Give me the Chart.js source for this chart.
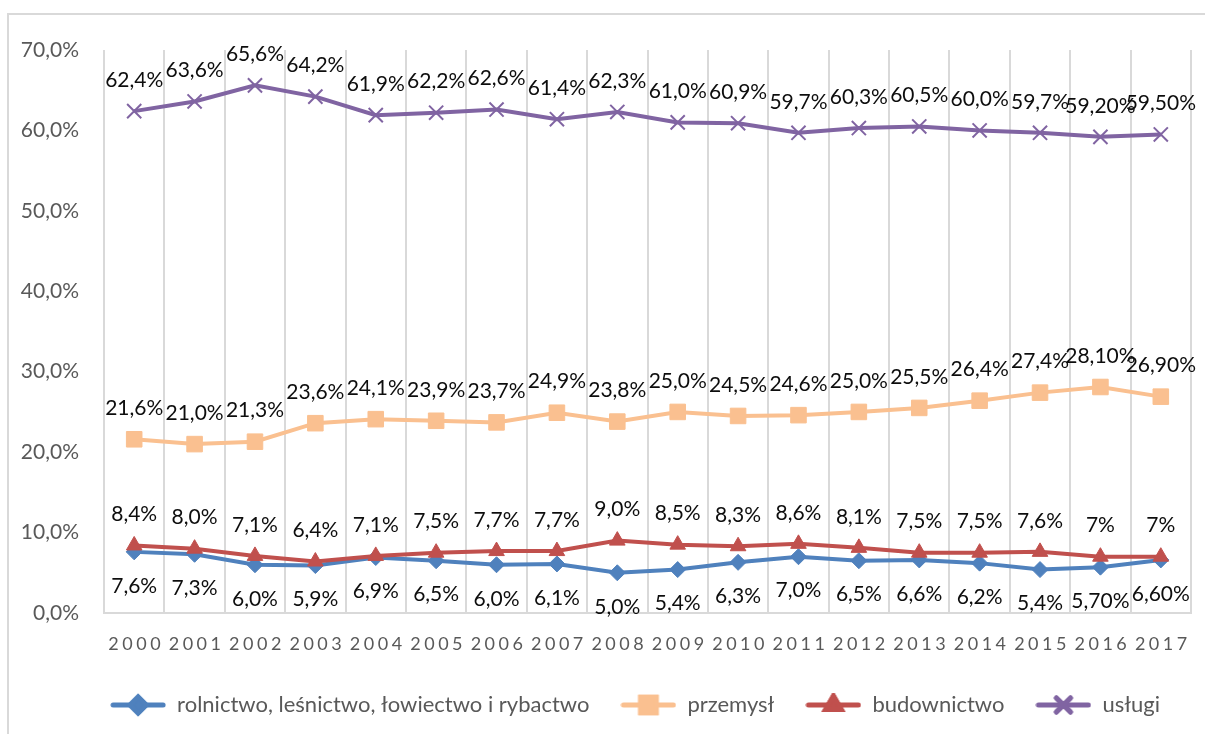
<!DOCTYPE html>
<html>
<head>
<meta charset="utf-8">
<script src="https://cdn.jsdelivr.net/npm/chart.js@4.4.7/dist/chart.umd.min.js"></script>
<style>
  html, body { margin: 0; padding: 0; background: #fff; overflow: hidden; }
  #wrap { position: relative; width: 1205px; height: 734px; }
  #frame { position: absolute; left: 7px; top: 13px; width: 1300px; height: 800px; border: 2px solid #d9d9d9; }
  #chart { position: absolute; left: 0; top: 0; }
</style>
</head>
<body>
<div id="wrap">
  <div id="frame"></div>
  <canvas id="chart" width="1205" height="734"></canvas>
</div>
<script>
const years = ["2000", "2001", "2002", "2003", "2004", "2005", "2006", "2007", "2008",
  "2009", "2010", "2011", "2012", "2013", "2014", "2015", "2016", "2017"];

const rolnictwo = [7.6, 7.3, 6.0, 5.9, 6.9, 6.5, 6.0, 6.1, 5.0, 5.4, 6.3, 7.0, 6.5, 6.6, 6.2, 5.4, 5.7, 6.6];
const przemysl = [21.6, 21.0, 21.3, 23.6, 24.1, 23.9, 23.7, 24.9, 23.8, 25.0, 24.5, 24.6, 25.0, 25.5, 26.4, 27.4, 28.1, 26.9];
const budownictwo = [8.4, 8.0, 7.1, 6.4, 7.1, 7.5, 7.7, 7.7, 9.0, 8.5, 8.3, 8.6, 8.1, 7.5, 7.5, 7.6, 7, 7];
const uslugi = [62.4, 63.6, 65.6, 64.2, 61.9, 62.2, 62.6, 61.4, 62.3, 61.0, 60.9, 59.7, 60.3, 60.5, 60.0, 59.7, 59.2, 59.5];

// labels as printed on the chart
const rolnictwoText = ["7,6%", "7,3%", "6,0%", "5,9%", "6,9%", "6,5%", "6,0%", "6,1%", "5,0%", "5,4%", "6,3%", "7,0%", "6,5%", "6,6%", "6,2%", "5,4%", "5,70%", "6,60%"];
const przemyslText = ["21,6%", "21,0%", "21,3%", "23,6%", "24,1%", "23,9%", "23,7%", "24,9%", "23,8%", "25,0%", "24,5%", "24,6%", "25,0%", "25,5%", "26,4%", "27,4%", "28,10%", "26,90%"];
const budownictwoText = ["8,4%", "8,0%", "7,1%", "6,4%", "7,1%", "7,5%", "7,7%", "7,7%", "9,0%", "8,5%", "8,3%", "8,6%", "8,1%", "7,5%", "7,5%", "7,6%", "7%", "7%"];
const uslugiText = ["62,4%", "63,6%", "65,6%", "64,2%", "61,9%", "62,2%", "62,6%", "61,4%", "62,3%", "61,0%", "60,9%", "59,7%", "60,3%", "60,5%", "60,0%", "59,7%", "59,20%", "59,50%"];

const yTicks = [0, 10, 20, 30, 40, 50, 60, 70];

const FONT = "Lato, 'Open Sans', sans-serif";
const BLUE = "#4F81BD";
const ORANGE = "#FAC090";
const RED = "#C0504D";
const PURPLE = "#8064A2";

function legendIcon(color, style, radius, borderWidth) {
  const c = document.createElement("canvas");
  c.width = 56;
  c.height = 24;
  const ctx = c.getContext("2d");
  ctx.strokeStyle = color;
  ctx.lineWidth = 5;
  ctx.lineCap = "round";
  ctx.beginPath();
  ctx.moveTo(3, 12);
  ctx.lineTo(53, 12);
  ctx.stroke();
  ctx.fillStyle = color;
  ctx.strokeStyle = color;
  Chart.helpers.drawPoint(ctx, { pointStyle: style, radius: radius, borderWidth: borderWidth }, 28, 12);
  ctx.fill();
  ctx.stroke();
  return c;
}

const dataLabelPlugin = {
  id: "dataLabels",
  afterDatasetsDraw(chart) {
    const ctx = chart.ctx;
    ctx.save();
    ctx.font = "21px " + FONT;
    ctx.fillStyle = "#0d0d0d";
    ctx.textAlign = "center";
    ctx.textBaseline = "middle";
    chart.data.datasets.forEach((ds, di) => {
      const meta = chart.getDatasetMeta(di);
      meta.data.forEach((pt, i) => {
        const dy = ds.labelBelow ? 34 : -31;
        ctx.fillText(ds.labelTexts[i], pt.x, pt.y + dy);
      });
    });
    ctx.restore();
  },
  afterDraw(chart) {
    // year labels with wide letter spacing
    const ctx = chart.ctx;
    const xScale = chart.scales.x;
    ctx.save();
    ctx.font = "18px " + FONT;
    ctx.fillStyle = "#595959";
    ctx.letterSpacing = "3.5px";
    ctx.textAlign = "center";
    ctx.textBaseline = "middle";
    years.forEach((y, i) => {
      ctx.fillText(y, xScale.getPixelForValue(i) + 2, chart.chartArea.bottom + 31);
    });
    ctx.restore();
  }
};

new Chart(document.getElementById("chart"), {
  type: "line",
  data: {
    labels: years,
    datasets: [
      {
        label: "rolnictwo, leśnictwo, łowiectwo i rybactwo",
        data: rolnictwo,
        labelTexts: rolnictwoText,
        labelBelow: true,
        borderColor: BLUE,
        backgroundColor: BLUE,
        borderWidth: 4,
        pointStyle: "rectRot",
        pointRadius: 8,
        pointBorderWidth: 1,
        pointBackgroundColor: BLUE,
        pointBorderColor: BLUE,
        order: 3,
        pointStyleIcon: legendIcon(BLUE, "rectRot", 8, 1)
      },
      {
        label: "przemysł",
        data: przemysl,
        labelTexts: przemyslText,
        borderColor: ORANGE,
        backgroundColor: ORANGE,
        borderWidth: 4,
        pointStyle: "rect",
        pointRadius: 11,
        pointBorderWidth: 1,
        pointBackgroundColor: ORANGE,
        pointBorderColor: ORANGE,
        order: 2,
        pointStyleIcon: legendIcon(ORANGE, "rect", 11, 1)
      },
      {
        label: "budownictwo",
        data: budownictwo,
        labelTexts: budownictwoText,
        borderColor: RED,
        backgroundColor: RED,
        borderWidth: 4,
        pointStyle: "triangle",
        pointRadius: 9,
        pointBorderWidth: 1,
        pointBackgroundColor: RED,
        pointBorderColor: RED,
        order: 1,
        pointStyleIcon: legendIcon(RED, "triangle", 9, 1)
      },
      {
        label: "usługi",
        data: uslugi,
        labelTexts: uslugiText,
        borderColor: PURPLE,
        backgroundColor: PURPLE,
        borderWidth: 4,
        pointStyle: "crossRot",
        pointRadius: 10,
        pointBorderWidth: 2,
        pointBackgroundColor: PURPLE,
        pointBorderColor: PURPLE,
        order: 0,
        pointStyleIcon: legendIcon(PURPLE, "crossRot", 10, 2)
      }
    ]
  },
  options: {
    responsive: false,
    animation: false,
    events: [],
    layout: { padding: { top: 50, left: 0, right: 14, bottom: 8 } },
    elements: { line: { tension: 0 } },
    scales: {
      x: {
        offset: true,
        grid: { offset: true, color: "#d9d9d9", lineWidth: 2, drawTicks: false },
        border: { color: "#d9d9d9", width: 2 },
        ticks: { color: "rgba(0,0,0,0)", font: { size: 17, family: FONT }, padding: 20 },
        afterFit(scale) { scale.height = 50; }
      },
      y: {
        min: 0,
        max: 70,
        afterBuildTicks(scale) { scale.ticks = yTicks.map((v) => ({ value: v })); },
        grid: { display: false },
        border: { display: false },
        ticks: {
          color: "#595959",
          font: { size: 21, family: FONT },
          padding: 17,
          callback: (v) => v.toFixed(1).replace(".", ",") + "%"
        },
        afterFit(scale) { scale.width = 104; }
      }
    },
    plugins: {
      tooltip: { enabled: false },
      legend: {
        position: "bottom",
        align: "end",
        labels: {
          color: "#595959",
          font: { size: 22, family: FONT },
          usePointStyle: true,
          pointStyleWidth: 56,
          boxHeight: 22,
          padding: 31,
          sort: (a, b) => a.datasetIndex - b.datasetIndex,
          generateLabels(chart) {
            return chart.data.datasets.map((ds, i) => ({
              text: ds.label,
              fillStyle: ds.borderColor,
              strokeStyle: ds.borderColor,
              fontColor: "#595959",
              lineWidth: 0,
              pointStyle: ds.pointStyleIcon,
              hidden: false,
              datasetIndex: i
            }));
          }
        }
      }
    }
  },
  plugins: [dataLabelPlugin]
});
</script>
</body>
</html>
